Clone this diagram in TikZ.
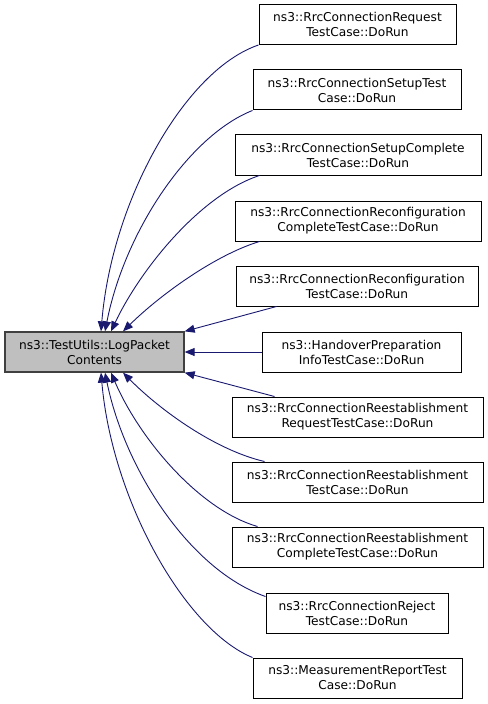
\documentclass[tikz,border=0pt]{standalone}
\usepackage{fontspec}
\setmainfont{DejaVu Sans}
\usetikzlibrary{arrows.meta,calc}
\definecolor{edgeblue}{HTML}{191970}
\definecolor{maingray}{HTML}{BFBFBF}
\definecolor{mainborder}{HTML}{404040}
\begin{document}
\begin{tikzpicture}[x=1bp,y=-1bp,
  box/.style={draw=black, line width=1bp, fill=white, minimum height=40bp, inner sep=0pt, align=center, font=\fontsize{12.2bp}{15bp}\selectfont},
  mainbox/.style={box, fill=maingray, draw=mainborder, line width=1.3bp},
  edge/.style={draw=edgeblue, line width=0.9bp, -{Triangle[length=10bp,width=8bp]}}]
\useasboundingbox (0,0) rectangle (488,704);
\node[mainbox, minimum width=179bp] (main) at (94.5,352) {ns3::TestUtils::LogPacket\\Contents};
\node[box, minimum width=197bp] (b1) at (357.5,24.5) {ns3::RrcConnectionRequest\\TestCase::DoRun};
\node[box, minimum width=208bp] (b2) at (357,90) {ns3::RrcConnectionSetupTest\\Case::DoRun};
\node[box, minimum width=246bp] (b3) at (358,155) {ns3::RrcConnectionSetupComplete\\TestCase::DoRun};
\node[box, minimum width=246bp] (b4) at (358,221) {ns3::RrcConnectionReconfiguration\\CompleteTestCase::DoRun};
\node[box, minimum width=242bp] (b5) at (357,286) {ns3::RrcConnectionReconfiguration\\TestCase::DoRun};
\node[box, minimum width=199bp] (b6) at (361.5,352) {ns3::HandoverPreparation\\InfoTestCase::DoRun};
\node[box, minimum width=251bp] (b7) at (357.5,417) {ns3::RrcConnectionReestablishment\\RequestTestCase::DoRun};
\node[box, minimum width=251bp] (b8) at (357.5,482) {ns3::RrcConnectionReestablishment\\TestCase::DoRun};
\node[box, minimum width=251bp] (b9) at (357.5,547) {ns3::RrcConnectionReestablishment\\CompleteTestCase::DoRun};
\node[box, minimum width=182bp] (b10) at (357,613) {ns3::RrcConnectionReject\\TestCase::DoRun};
\node[box, minimum width=209bp] (b11) at (357.5,678) {ns3::MeasurementReportTest\\Case::DoRun};

\draw[edge] (b1.south west) .. controls (185,70) and (112,200) .. ($(main.north)+(6.5,0)$);
\draw[edge] (b2.south west) .. controls (190,135) and (125,230) .. ($(main.north)+(10.5,0)$);
\draw[edge] ($(b3.south west)+(25,0)$) .. controls (200,195) and (140,270) .. ($(main.north)+(16.5,0)$);
\draw[edge] ($(b4.south west)+(25,0)$) .. controls (215,255) and (160,295) .. ($(main.north)+(28.5,0)$);
\draw[edge] ($(b5.south west)+(41,0)$) -- (main.north east);
\draw[edge] (b6.west) -- (main.east);
\draw[edge] ($(b7.north west)+(43,0)$) -- (main.south east);
\draw[edge] ($(b8.north west)+(33,0)$) .. controls (215,450) and (160,410) .. ($(main.south)+(28.5,0)$);
\draw[edge] ($(b9.north west)+(26,0)$) .. controls (200,510) and (140,440) .. ($(main.south)+(16.5,0)$);
\draw[edge] ($(b10.north west)+(0,4)$) .. controls (190,570) and (125,470) .. ($(main.south)+(10.5,0)$);
\draw[edge] (b11.north west) .. controls (185,630) and (112,500) .. ($(main.south)+(6.5,0)$);
\end{tikzpicture}
\end{document}
